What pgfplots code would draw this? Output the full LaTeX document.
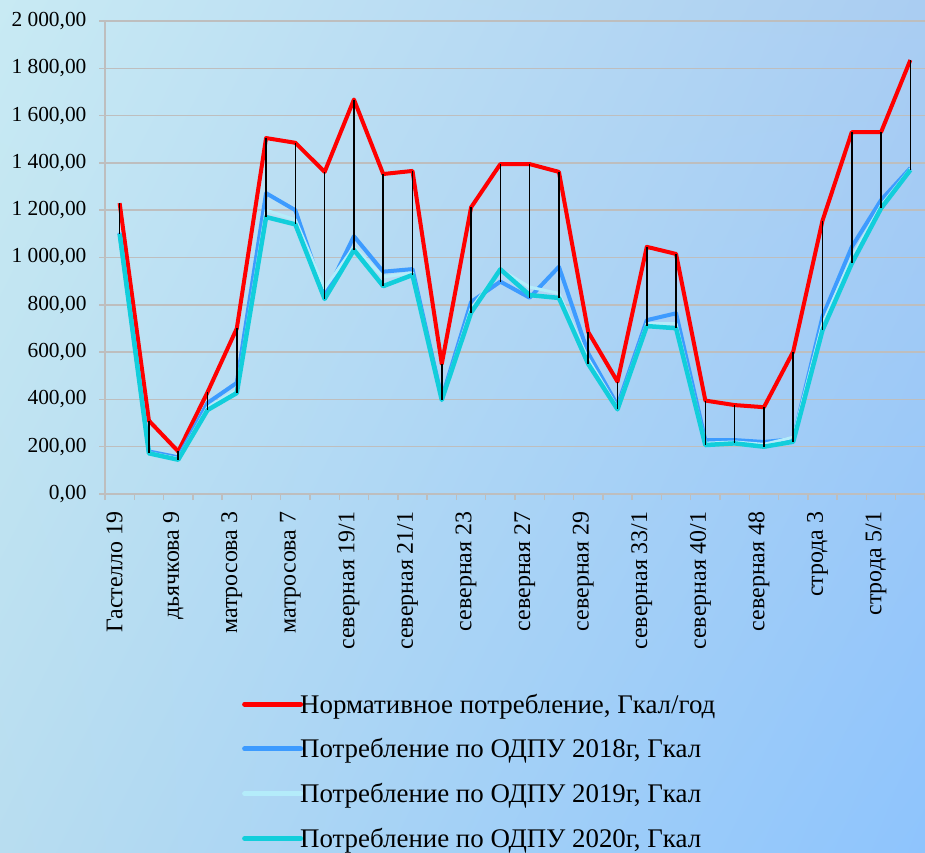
\documentclass[border=0pt]{standalone}
\usepackage{fontspec}
\setmainfont{Liberation Serif}
\usepackage{pgfplots}
\pgfplotsset{compat=1.18}
\usepackage{pgfplotstable}
\usetikzlibrary{shadings}

\definecolor{cRed}{HTML}{FF0000}
\definecolor{cA}{HTML}{3D9BFF}
\definecolor{cB}{HTML}{B4ECFA}
\definecolor{cC}{HTML}{12CEDB}
\definecolor{gridc}{HTML}{BEBEBE}
\definecolor{bgUL}{HTML}{C8EAF3}
\definecolor{bgUR}{HTML}{AACDF2}
\definecolor{bgLL}{HTML}{B8DDF0}
\definecolor{bgLR}{HTML}{8EC4FD}

\pgfplotstableread{
x red b18 b19 b20 err
0 1230 1105 1100 1100 130
1 310 180 175 172 138
2 180 155 150 145 35
3 430 385 365 355 75
4 700 470 440 427 273
5 1505 1272 1200 1171 334
6 1485 1200 1160 1140 345
7 1362 835 870 825 537
8 1668 1090 1045 1032 636
9 1353 940 918 879 474
10 1366 951 935 926 440
11 550 405 400 398 152
12 1212 812 785 767 445
13 1395 898 950 950 497
14 1395 830 875 841 565
15 1362 961 848 829 533
16 685 595 570 550 135
17 475 375 365 358 117
18 1045 735 720 710 335
19 1015 764 720 701 314
20 395 228 215 207 188
21 376 228 220 214 162
22 367 220 210 200 167
23 602 232 240 221 381
24 1156 750 720 693 463
25 1530 1045 1000 975 555
26 1530 1243 1220 1208 322
27 1835 1378 1375 1370 465
}\data

\begin{document}
\begin{tikzpicture}
\shade[upper left=bgUL, upper right=bgUR, lower left=bgLL, lower right=bgLR] (0,0) rectangle (925bp,853bp);
\begin{axis}[
  at={(105bp,359bp)}, anchor=south west,
  scale only axis, width=820bp, height=473bp,
  xmin=-0.5, xmax=27.5, ymin=0, ymax=2000,
  axis lines*=left,
  axis line style={gridc, line width=1.5bp},
  ymajorgrids, grid style={gridc, line width=1.5bp},
  ytick={0,200,...,2000},
  tick align=outside,
  major tick length=6bp, minor tick length=6bp,
  tick style={gridc, line width=1.5bp},
  /pgf/number format/fixed, /pgf/number format/fixed zerofill, /pgf/number format/precision=2,
  /pgf/number format/use comma, /pgf/number format/1000 sep={\ }, /pgf/number format/assume math mode=true,
  yticklabel style={font=\fontsize{21.5}{23}\selectfont, xshift=-9bp},
  xtick={0,2,...,26},
  xticklabels={Гастелло 19, дьячкова 9, матросова 3, матросова 7, северная 19/1, северная 21/1, северная 23, северная 27, северная 29, северная 33/1, северная 40/1, северная 48, строда 3, строда 5/1},
  major x tick style={draw=none},
  minor xtick={-0.5,0.5,...,27.5},
  x tick label style={rotate=90, anchor=east, font=\fontsize{24}{26}\selectfont, xshift=-8bp, yshift=5bp},
  legend style={at={(0.167,-0.42)}, anchor=north west, draw=none, fill=none,
    font=\fontsize{27}{30}\selectfont, row sep=22bp, column sep=-4bp, inner sep=0pt,
    cells={anchor=west}, nodes={inner sep=1bp}},
  legend image code/.code={\draw[#1, line width=5bp, line cap=round] (0bp,0bp) -- (56bp,0bp);},
  every axis plot/.append style={line join=round},
]
\addplot[cRed, line width=4bp] table[x=x, y=red]{\data};
\addlegendentry{Нормативное потребление, Гкал/год}
\addplot[cA, line width=4bp] table[x=x, y=b18]{\data};
\addlegendentry{Потребление по ОДПУ 2018г, Гкал}
\addplot[cB, line width=3bp] table[x=x, y=b19]{\data};
\addlegendentry{Потребление по ОДПУ 2019г, Гкал}
\addplot[cC, line width=4.5bp] table[x=x, y=b20]{\data};
\addlegendentry{Потребление по ОДПУ 2020г, Гкал}
\addplot[forget plot, draw=none, error bars/.cd, y dir=minus, y explicit, error mark=none,
  error bar style={black, line width=1.5bp}] table[x=x, y=red, y error=err]{\data};
\end{axis}
\pgfresetboundingbox
\path[use as bounding box] (0,0) rectangle (925bp,853bp);
\end{tikzpicture}
\end{document}
